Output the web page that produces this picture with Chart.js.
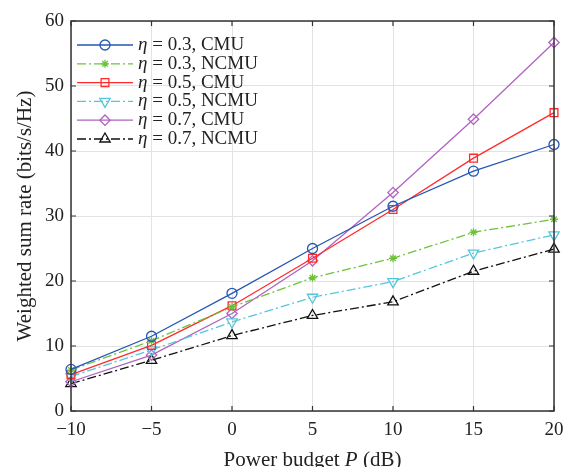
<!DOCTYPE html>
<html>
<head>
<meta charset="utf-8">
<script src="https://cdn.jsdelivr.net/npm/chart.js@4.4.1/dist/chart.umd.min.js"></script>
<style>
html,body{margin:0;padding:0;background:#fff;}
canvas{display:block;}
</style>
</head>
<body>
<canvas id="c" width="565" height="467"></canvas>
<script>
const powerBudget = [-10, -5, 0, 5, 10, 15, 20];
const xTicks = [-10, -5, 0, 5, 10, 15, 20];
const yTicks = [0, 10, 20, 30, 40, 50, 60];
const cmu03  = [6.4, 11.5, 18.1, 25.0, 31.5, 36.9, 41.0];
const ncmu03 = [6.3, 10.8, 16.0, 20.5, 23.5, 27.5, 29.5];
const cmu05  = [5.6, 10.1, 16.2, 23.5, 31.0, 38.9, 45.9];
const ncmu05 = [5.3, 9.4, 13.7, 17.5, 19.9, 24.3, 27.1];
const cmu07  = [4.5, 8.6, 15.0, 23.1, 33.6, 44.9, 56.7];
const ncmu07 = [4.2, 7.8, 11.6, 14.7, 16.8, 21.5, 24.9];
const seriesEta = ['0.3', '0.3', '0.5', '0.5', '0.7', '0.7'];
const seriesScheme = ['CMU', 'NCMU', 'CMU', 'NCMU', 'CMU', 'NCMU'];

const FONT = '"Liberation Serif", "Times New Roman", serif';
const DASHDOT = [9, 3, 2, 3];

function pts(arr){ return powerBudget.map((x,i)=>({x:x, y:arr[i]})); }

function ds(i, data, color, style, radius, dashed, rotation){
  return {
    label: 'η = ' + seriesEta[i] + ', ' + seriesScheme[i],
    data: pts(data),
    borderColor: color,
    backgroundColor: 'rgba(0,0,0,0)',
    borderWidth: 1.3,
    borderDash: dashed ? DASHDOT : [],
    pointStyle: style,
    pointRadius: radius,
    pointHoverRadius: radius,
    pointBorderColor: color,
    pointBackgroundColor: 'rgba(0,0,0,0)',
    pointBorderWidth: 1.3,
    pointRotation: rotation || 0,
    tension: 0,
    clip: false,
    fill: false
  };
}

const datasets = [
  ds(0, cmu03,  '#2457b5', 'circle',   5, false),
  ds(1, ncmu03, '#6cc33a', 'star',     4, true),
  ds(2, cmu05,  '#ff2b2b', 'rect',     5.5, false),
  ds(3, ncmu05, '#55c6dc', 'triangle', 6, true, 180),
  ds(4, cmu07,  '#b062c0', 'rectRot',  5.2, false),
  ds(5, ncmu07, '#111111', 'triangle', 6, true)
];

function drawMarker(ctx, style, r, x, y, rot, color){
  ctx.save();
  ctx.setLineDash([]);
  ctx.strokeStyle = color;
  ctx.fillStyle = 'rgba(0,0,0,0)';
  ctx.lineWidth = 1.3;
  if (Chart.helpers && Chart.helpers.drawPoint) {
    Chart.helpers.drawPoint(ctx, {pointStyle: style, rotation: rot || 0, radius: r, borderWidth: 1.3}, x, y);
  }
  ctx.restore();
}

const framePlugin = {
  id: 'frame',
  afterDraw(chart){
    const ctx = chart.ctx;
    const a = chart.chartArea;
    const xs = chart.scales.x, ys = chart.scales.y;
    ctx.save();
    ctx.strokeStyle = '#333';
    ctx.lineWidth = 1.5;
    ctx.setLineDash([]);
    ctx.strokeRect(a.left, a.top, a.right - a.left, a.bottom - a.top);
    ctx.lineWidth = 1.2;
    const L = 5;
    ctx.beginPath();
    xTicks.forEach(v=>{
      const p = xs.getPixelForValue(v);
      ctx.moveTo(p, a.bottom); ctx.lineTo(p, a.bottom - L);
      ctx.moveTo(p, a.top); ctx.lineTo(p, a.top + L);
    });
    yTicks.forEach(v=>{
      const p = ys.getPixelForValue(v);
      ctx.moveTo(a.left, p); ctx.lineTo(a.left + L, p);
      ctx.moveTo(a.right, p); ctx.lineTo(a.right - L, p);
    });
    ctx.stroke();

    // x axis title with italic P
    ctx.fillStyle = '#222';
    ctx.textBaseline = 'middle';
    const parts = [['Power budget ', 'normal'], ['P', 'italic'], [' (dB)', 'normal']];
    let total = 0;
    parts.forEach(p=>{ ctx.font = p[1] + ' 21px ' + FONT; total += ctx.measureText(p[0]).width; });
    let x = (a.left + a.right) / 2 - total / 2;
    const ty = 460;
    parts.forEach(p=>{
      ctx.font = p[1] + ' 21px ' + FONT;
      ctx.textAlign = 'left';
      ctx.fillText(p[0], x, ty);
      x += ctx.measureText(p[0]).width;
    });

    // legend
    const lx0 = 77, lx1 = 133, mx = 105, tx = 138;
    const y0 = 45, dy = 18.8;
    chart.data.datasets.forEach((d, i)=>{
      const y = y0 + i * dy;
      ctx.save();
      ctx.strokeStyle = d.borderColor;
      ctx.lineWidth = d.borderWidth;
      ctx.setLineDash(d.borderDash);
      ctx.beginPath();
      ctx.moveTo(lx0, y); ctx.lineTo(lx1, y);
      ctx.stroke();
      ctx.restore();
      drawMarker(ctx, d.pointStyle, d.pointRadius, mx, y, d.pointRotation, d.borderColor);
      ctx.fillStyle = '#222';
      ctx.textAlign = 'left';
      ctx.textBaseline = 'middle';
      ctx.font = 'italic 19px ' + FONT;
      ctx.fillText('η', tx, y);
      const w = ctx.measureText('η').width;
      ctx.font = 'normal 19px ' + FONT;
      ctx.fillText(' = ' + seriesEta[i] + ', ' + seriesScheme[i], tx + w, y);
    });
    ctx.restore();
  }
};

new Chart(document.getElementById('c'), {
  type: 'line',
  data: { datasets: datasets },
  options: {
    responsive: false,
    devicePixelRatio: 1,
    animation: false,
    layout: { padding: { left: 0, right: 11, top: 21, bottom: 0 } },
    plugins: { legend: { display: false }, tooltip: { enabled: false } },
    scales: {
      x: {
        type: 'linear',
        min: -10, max: 20,
        afterBuildTicks(s){ s.ticks = xTicks.map(v=>({value:v})); },
        afterFit(s){ s.height = 56; s.paddingLeft = 0; s.paddingRight = 0; },
        grid: { color: '#e3e3e3', lineWidth: 1, drawTicks: false },
        border: { display: false },
        ticks: {
          padding: 8,
          color: '#222',
          font: { family: FONT, size: 19 },
          callback: v => String(v).replace('-', '\u2212')
        }
      },
      y: {
        type: 'linear',
        min: 0, max: 60,
        afterBuildTicks(s){ s.ticks = yTicks.map(v=>({value:v})); },
        afterFit(s){ s.width = 71; s.paddingTop = 0; s.paddingBottom = 0; },
        grid: { color: '#e3e3e3', lineWidth: 1, drawTicks: false },
        border: { display: false },
        title: {
          display: true,
          text: 'Weighted sum rate (bits/s/Hz)',
          color: '#222',
          font: { family: FONT, size: 21 },
          padding: { top: 13, bottom: 4 }
        },
        ticks: {
          padding: 7,
          color: '#222',
          font: { family: FONT, size: 19 }
        }
      }
    }
  },
  plugins: [framePlugin]
});
</script>
</body>
</html>
